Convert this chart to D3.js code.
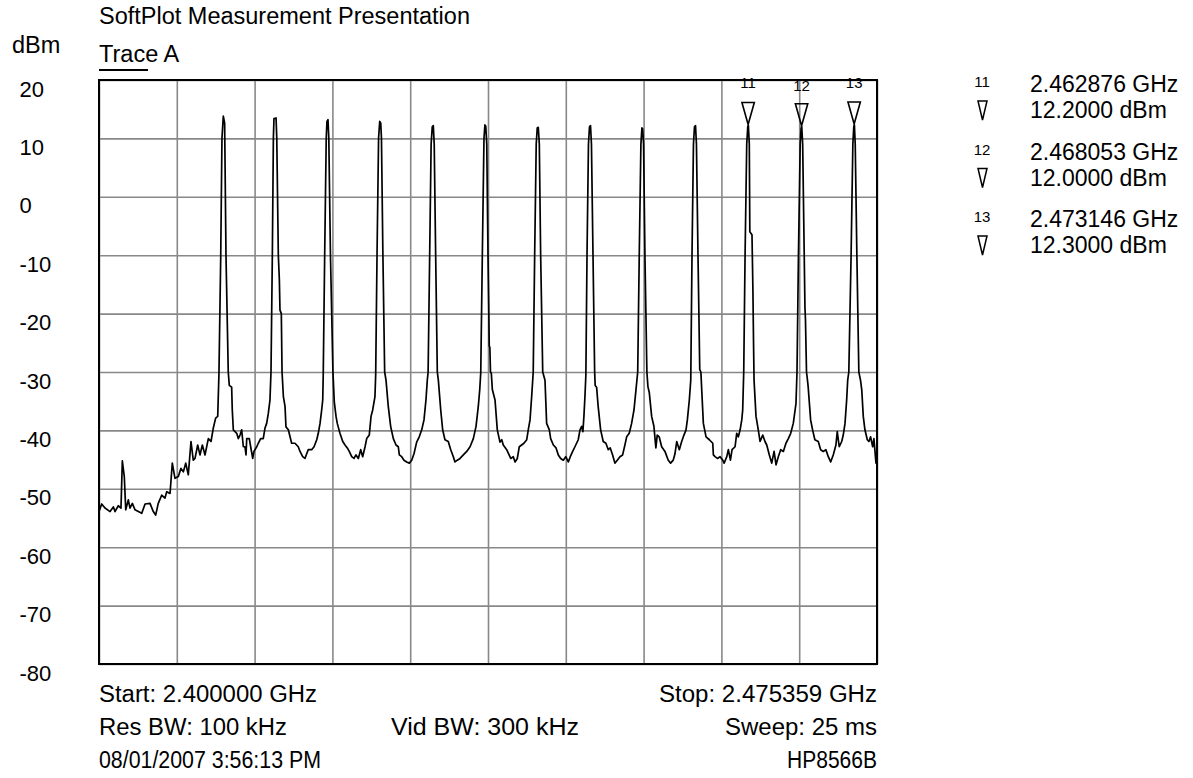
<!DOCTYPE html>
<html><head><meta charset="utf-8">
<script src="https://cdn.jsdelivr.net/npm/d3@7"></script>
<style>
html,body{margin:0;padding:0;background:#fff;}
text{font-family:"Liberation Sans",Arial,sans-serif;fill:#000;}
.narrow{font-family:"Liberation Sans Narrow","Arial Narrow","Liberation Sans",sans-serif;}
</style></head>
<body>
<svg id="chart" width="1193" height="778"></svg>
<script>
// ---- data ----
const startGHz = 2.400000, stopGHz = 2.475359;
const spanMHz = 75.359;
const yTicks = [20, 10, 0, -10, -20, -30, -40, -50, -60, -70, -80];
const xDivisions = [0, 1, 2, 3, 4, 5, 6, 7, 8, 9, 10];
// trace: [offset from start in MHz, level in dBm]
const trace = [
 [0.00,-53.9],[0.26,-52.6],[0.58,-53.3],[1.07,-53.9],[1.39,-53.1],[1.55,-53.9],[1.87,-52.9],[2.13,-53.3],[2.26,-45.2],[2.45,-47.9],[2.59,-53.6],[2.84,-51.9],[3.00,-53.3],[3.23,-52.5],[3.49,-53.6],[3.81,-53.9],[4.14,-54.2],[4.46,-52.6],[4.94,-52.5],[5.26,-53.9],[5.49,-54.5],[5.74,-52.5],[6.07,-51.1],[6.39,-51.6],[6.56,-50.5],[6.88,-50.8],[7.10,-45.6],[7.36,-48.2],[7.68,-47.9],[7.94,-46.5],[8.17,-47.1],[8.40,-45.6],[8.65,-47.6],[8.91,-41.9],[9.13,-45.1],[9.30,-44.8],[9.56,-42.5],[9.78,-44.2],[10.01,-42.5],[10.27,-44.2],[10.59,-41.4],[10.85,-41.9],[11.07,-39.6],[11.30,-37.9],[11.50,-37.6],
 [11.62,-30.2],[11.79,-10.3],[11.91,10.0],[12.04,13.8],[12.17,12.6],[12.30,-10.0],[12.52,-30.0],[12.62,-32.3],[12.85,-32.6],[12.91,-36.5],[13.01,-39.9],
 [13.34,-40.5],[13.49,-41.4],[13.66,-40.8],[13.82,-39.9],[13.98,-42.8],[14.14,-42.8],[14.24,-44.2],[14.31,-41.4],[14.56,-41.4],[14.69,-42.8],[14.89,-44.8],[15.01,-43.6],[15.28,-42.8],[15.43,-42.2],[15.66,-41.4],[15.91,-41.4],[16.08,-39.6],[16.24,-38.8],[16.40,-37.1],[16.56,-34.8],
 [16.66,-30.0],[16.79,-10.0],[16.89,10.0],[16.95,13.4],[17.15,13.5],[17.22,10.0],[17.37,-10.0],[17.47,-14.2],[17.53,-19.4],[17.66,-20.0],[17.73,-30.0],[17.86,-34.2],
 [18.02,-35.9],[18.11,-39.4],[18.34,-39.9],[18.66,-42.2],[18.98,-42.2],[19.30,-42.8],[19.47,-43.6],[19.73,-44.5],[19.95,-44.8],[20.12,-44.0],[20.27,-43.3],[20.60,-43.3],[20.83,-42.8],[21.09,-41.6],[21.24,-40.5],[21.41,-38.8],[21.57,-36.5],[21.67,-34.8],
 [21.72,-30.5],[21.86,-10.0],[22.01,10.0],[22.08,12.9],[22.18,13.2],[22.26,10.0],[22.42,-10.0],[22.66,-30.0],[22.79,-35.1],[22.96,-37.6],
 [23.08,-38.8],[23.34,-40.5],[23.61,-41.9],[23.83,-42.5],[24.05,-43.0],[24.24,-43.6],[24.48,-44.5],[24.70,-44.8],[24.89,-44.2],[25.12,-44.8],[25.35,-43.3],[25.54,-44.5],[25.77,-42.8],[25.93,-41.4],[26.18,-40.8],[26.35,-37.6],[26.51,-36.5],[26.73,-34.2],
 [26.80,-30.5],[26.93,-10.0],[27.08,10.0],[27.19,12.9],[27.29,12.6],[27.36,10.0],[27.50,-10.0],[27.67,-30.0],[27.80,-31.4],[28.02,-35.9],
 [28.25,-39.3],[28.51,-41.4],[28.77,-42.5],[28.99,-42.8],[29.09,-44.2],[29.32,-44.5],[29.54,-45.1],[29.80,-45.4],[30.06,-45.6],[30.29,-45.1],[30.51,-44.0],[30.77,-42.0],[31.02,-41.1],[31.26,-39.9],[31.48,-38.2],[31.67,-34.8],[31.80,-31.4],
 [31.88,-30.0],[32.03,-10.0],[32.17,9.0],[32.28,12.0],[32.38,12.2],[32.47,9.0],[32.61,-10.0],[32.77,-30.0],[32.87,-31.4],[33.10,-36.5],
 [33.29,-39.9],[33.51,-41.6],[33.83,-41.9],[34.07,-43.3],[34.32,-44.5],[34.48,-45.4],[34.71,-45.1],[34.97,-44.8],[35.29,-44.2],[35.62,-43.6],[35.94,-42.8],[36.26,-41.4],[36.52,-39.3],[36.74,-35.9],[36.88,-33.0],
 [36.98,-30.0],[37.13,-10.0],[37.29,10.0],[37.38,12.3],[37.46,12.1],[37.56,9.0],[37.68,-10.0],[37.76,-20.0],[37.80,-25.5],[37.86,-25.8],[37.92,-30.0],[38.00,-30.2],[38.10,-33.0],[38.36,-34.8],
 [38.58,-39.9],[38.84,-42.0],[39.01,-41.6],[39.16,-42.5],[39.49,-43.3],[39.88,-44.8],[40.13,-44.5],[40.30,-45.4],[40.52,-44.8],[40.71,-42.8],[40.94,-42.5],[41.16,-42.2],[41.43,-41.6],[41.58,-39.9],[41.75,-38.2],[41.91,-34.2],[42.01,-31.4],
 [42.06,-30.0],[42.20,-10.0],[42.35,9.0],[42.45,11.8],[42.55,11.9],[42.65,9.0],[42.78,-10.0],[42.98,-30.0],[43.20,-31.4],[43.36,-38.8],
 [43.62,-39.9],[43.75,-41.4],[44.01,-42.5],[44.27,-43.0],[44.49,-44.2],[44.72,-44.8],[44.97,-45.1],[45.21,-44.5],[45.46,-45.4],[45.65,-44.5],[45.88,-43.6],[46.10,-42.8],[46.42,-41.6],[46.59,-39.9],[46.75,-39.3],[46.87,-40.2],[46.97,-37.6],[47.07,-34.2],
 [47.16,-30.5],[47.27,-10.0],[47.41,9.0],[47.51,12.0],[47.61,12.2],[47.70,9.0],[47.85,-10.0],[48.01,-30.0],[48.06,-32.3],[48.20,-32.6],[48.35,-35.9],
 [48.59,-39.9],[48.84,-41.9],[49.10,-42.2],[49.33,-43.3],[49.52,-43.0],[49.75,-44.2],[49.97,-45.6],[50.20,-45.1],[50.46,-44.5],[50.72,-44.2],[50.94,-42.5],[51.11,-41.1],[51.36,-40.5],[51.59,-38.8],[51.82,-36.5],[52.01,-33.1],
 [52.18,-30.0],[52.33,-10.0],[52.49,9.0],[52.59,11.8],[52.66,11.6],[52.75,9.0],[52.88,-10.0],[53.07,-30.0],[53.17,-32.5],[53.30,-33.5],[53.53,-37.6],
 [53.75,-39.3],[53.94,-43.0],[54.07,-40.8],[54.26,-41.1],[54.50,-42.8],[54.82,-43.6],[55.14,-45.1],[55.37,-45.6],[55.62,-45.1],[55.79,-44.0],[55.96,-41.9],[56.21,-43.3],[56.44,-41.9],[56.66,-40.8],[56.86,-39.9],[56.99,-38.2],[57.18,-34.8],[57.32,-31.4],
 [57.44,-10.0],[57.58,9.0],[57.68,12.0],[57.78,12.2],[57.87,9.0],[58.02,-10.0],[58.19,-29.6],[58.30,-30.0],[58.38,-33.0],[58.54,-38.8],
 [58.80,-41.1],[59.12,-41.6],[59.45,-42.2],[59.51,-44.2],[59.67,-44.5],[59.90,-44.8],[60.16,-44.5],[60.42,-45.1],[60.55,-45.6],[60.81,-44.5],[60.96,-43.3],[61.16,-45.1],[61.32,-43.3],[61.61,-42.8],[61.77,-40.5],[61.93,-41.1],[62.10,-39.9],[62.26,-38.2],[62.35,-36.5],
 [62.45,-30.0],[62.58,-10.0],[62.74,9.0],[62.84,12.0],[62.90,12.2],[62.99,9.0],[63.04,-6.0],[63.25,-6.5],[63.34,-16.0],[63.40,-25.0],[63.45,-31.4],[63.64,-37.6],
 [63.86,-39.9],[64.03,-41.9],[64.29,-40.8],[64.51,-41.9],[64.68,-42.5],[64.93,-44.2],[65.16,-45.6],[65.39,-43.6],[65.58,-45.9],[65.80,-44.5],[66.03,-43.3],[66.29,-43.6],[66.54,-42.2],[66.77,-41.4],[67.00,-40.5],[67.25,-38.8],[67.51,-35.4],
 [67.61,-30.0],[67.75,-10.0],[67.92,9.0],[68.01,11.8],[68.07,12.0],[68.16,9.0],[68.31,-10.0],[68.38,-19.0],[68.43,-21.0],[68.53,-30.0],[68.60,-31.0],[68.69,-32.5],[68.93,-38.2],
 [69.12,-39.9],[69.34,-41.6],[69.67,-41.9],[69.90,-43.3],[70.15,-43.6],[70.41,-43.3],[70.64,-44.5],[70.87,-45.4],[71.12,-44.2],[71.38,-42.5],[71.51,-40.2],[71.70,-42.8],[71.94,-41.9],[72.09,-40.8],[72.26,-38.8],[72.42,-34.8],[72.52,-31.4],
 [72.63,-30.0],[72.85,-10.0],[73.02,9.0],[73.11,12.0],[73.17,12.3],[73.25,9.0],[73.41,-10.0],[73.60,-30.0],[73.76,-31.4],[73.88,-33.0],[74.03,-37.6],
 [74.19,-39.9],[74.42,-41.6],[74.58,-41.9],[74.74,-41.1],[74.94,-42.8],[75.06,-41.4],[75.26,-45.6],[75.359,-45.6]
];
const markerNames = ["11", "12", "13"];
const markerFreqGHz = [2.462876, 2.468053, 2.473146];
const markerLevel = [12.2, 12.0, 12.3];
const titleText = "SoftPlot Measurement Presentation";
const traceName = "Trace A";
const unitText = "dBm";
const footerLeft = ["Start: 2.400000 GHz", "Res BW: 100 kHz", "08/01/2007 3:56:13 PM"];
const footerMid = ["", "Vid BW: 300 kHz", ""];
const footerRight = ["Stop: 2.475359 GHz", "Sweep: 25 ms", "HP8566B"];

// ---- layout ----
const L = 99, R = 877, T = 80, B = 664;
const FS = 23;
const svg = d3.select("#chart");
const x = d3.scaleLinear().domain([0, spanMHz]).range([L, R]);
const xg = d3.scaleLinear().domain([startGHz, stopGHz]).range([L, R]);
const y = d3.scaleLinear().domain([-80, 20]).range([B, T]);
const xDiv = d3.scaleLinear().domain([0, 10]).range([0, spanMHz]);

// grid
const gx = svg.append("g").attr("transform", `translate(0,${B})`)
  .call(d3.axisBottom(x).tickValues(xDivisions.map(xDiv)).tickSize(-(B - T)).tickFormat(""));
const gy = svg.append("g").attr("transform", `translate(${L},0)`)
  .call(d3.axisLeft(y).tickValues(yTicks).tickSize(-(R - L)).tickFormat(""));
[gx, gy].forEach(g => {
  g.select(".domain").remove();
  g.selectAll(".tick line").attr("stroke", "#888").attr("stroke-width", 1.6);
});

// y labels
svg.append("g").selectAll("text").data(yTicks).join("text")
  .attr("x", 19.5).attr("y", d => y(d) + 16.5)
  .attr("font-size", 22).text(d => d);

// border
svg.append("rect").attr("x", L).attr("y", T).attr("width", R - L).attr("height", B - T)
  .attr("fill", "none").attr("stroke", "#000").attr("stroke-width", 2);

// trace
svg.append("path").datum(trace)
  .attr("d", d3.line().x(d => x(d[0])).y(d => y(d[1])))
  .attr("fill", "none").attr("stroke", "#000").attr("stroke-width", 1.7)
  .attr("stroke-linejoin", "round");

// markers on plot
markerFreqGHz.forEach((f, i) => {
  const cx = xg(f), cy = y(markerLevel[i]) - 1;
  svg.append("path")
    .attr("d", `M${cx - 6.2},${cy - 22}L${cx + 6.2},${cy - 22}L${cx},${cy}Z`)
    .attr("fill", "none").attr("stroke", "#000").attr("stroke-width", 1.6);
  svg.append("text").attr("class", "narrow").attr("x", cx).attr("y", T + 8 + (i === 1 ? 3 : 0))
    .attr("text-anchor", "middle").attr("font-size", 15).text(markerNames[i]);
});

// legend
markerFreqGHz.forEach((f, i) => {
  const base = 92 + i * 67.5;
  svg.append("text").attr("class", "narrow").attr("x", 982).attr("y", base - 5)
    .attr("text-anchor", "middle").attr("font-size", 15).text(markerNames[i]);
  svg.append("path")
    .attr("d", `M${978},${base + 9}L${987},${base + 9}L${982.5},${base + 28}Z`)
    .attr("fill", "none").attr("stroke", "#000").attr("stroke-width", 1.5);
  svg.append("text").attr("x", 1030).attr("y", base).attr("font-size", FS)
    .text(d3.format(".6f")(f) + " GHz");
  svg.append("text").attr("x", 1030).attr("y", base + 26).attr("font-size", FS)
    .text(d3.format(".4f")(markerLevel[i]) + " dBm");
});

// titles
svg.append("text").attr("x", L).attr("y", 24).attr("font-size", 23.5).text(titleText);
svg.append("text").attr("x", 12).attr("y", 53).attr("font-size", 23.5).text(unitText);
svg.append("text").attr("x", L).attr("y", 62).attr("font-size", 23.5).text(traceName);
svg.append("line").attr("x1", L).attr("x2", 148).attr("y1", 70).attr("y2", 70)
  .attr("stroke", "#000").attr("stroke-width", 2);

const rowsY = [702, 735, 768];
const FF = 23;
const leftW = [218, 188, 222], midW = [0, 188, 0], rightW = [218, 152, 90];
function foot(t, xPos, yPos, anchor, w) {
  if (!t) return;
  svg.append("text").attr("x", xPos).attr("y", yPos).attr("text-anchor", anchor)
    .attr("font-size", FF).attr("textLength", w).attr("lengthAdjust", "spacingAndGlyphs").text(t);
}
footerLeft.forEach((t, i) => foot(t, L, rowsY[i], "start", leftW[i]));
footerMid.forEach((t, i) => foot(t, 485, rowsY[i], "middle", midW[i]));
footerRight.forEach((t, i) => foot(t, R, rowsY[i], "end", rightW[i]));
</script>
</body></html>
